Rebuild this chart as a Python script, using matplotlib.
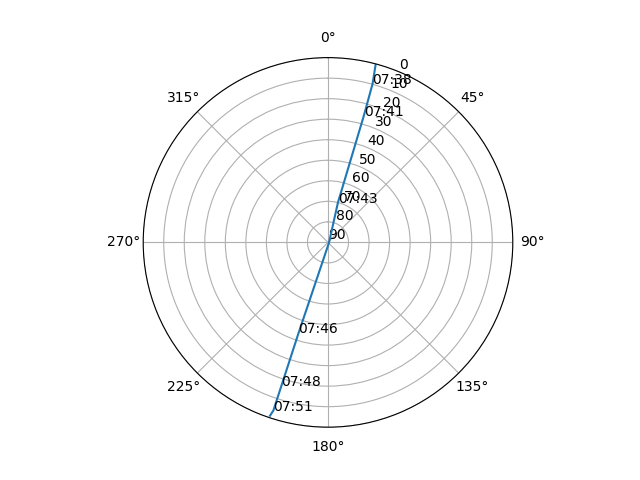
import numpy as np
import matplotlib

matplotlib.use("Agg")
import matplotlib.pyplot as plt

# pass track: azimuth (deg), elevation (deg), time label ("" = no label)
azimuth = [15.0, 15.7, 15.8, 14.0, 105.0, 198.0, 198.0, 198.0, 198.5]
elevation = [0.5, 9.7, 26.0, 70.0, 89.5, 43.6, 16.7, 3.9, 1.0]
times = ["", "07:38", "07:41", "07:43", "", "07:46", "07:48", "07:51", ""]

fig = plt.figure(figsize=(6.4, 4.8), dpi=100)
ax = fig.add_subplot(projection="polar")
ax.set_theta_zero_location("N")
ax.set_theta_direction(-1)

theta = np.radians(azimuth)
ax.plot(theta, elevation)
for t, r, lab in zip(theta, elevation, times):
    if lab:
        ax.text(t, r, lab)

ax.set_ylim(90, 0)
ax.set_yticks(np.arange(0, 91, 10))

fig.savefig("out.png")
